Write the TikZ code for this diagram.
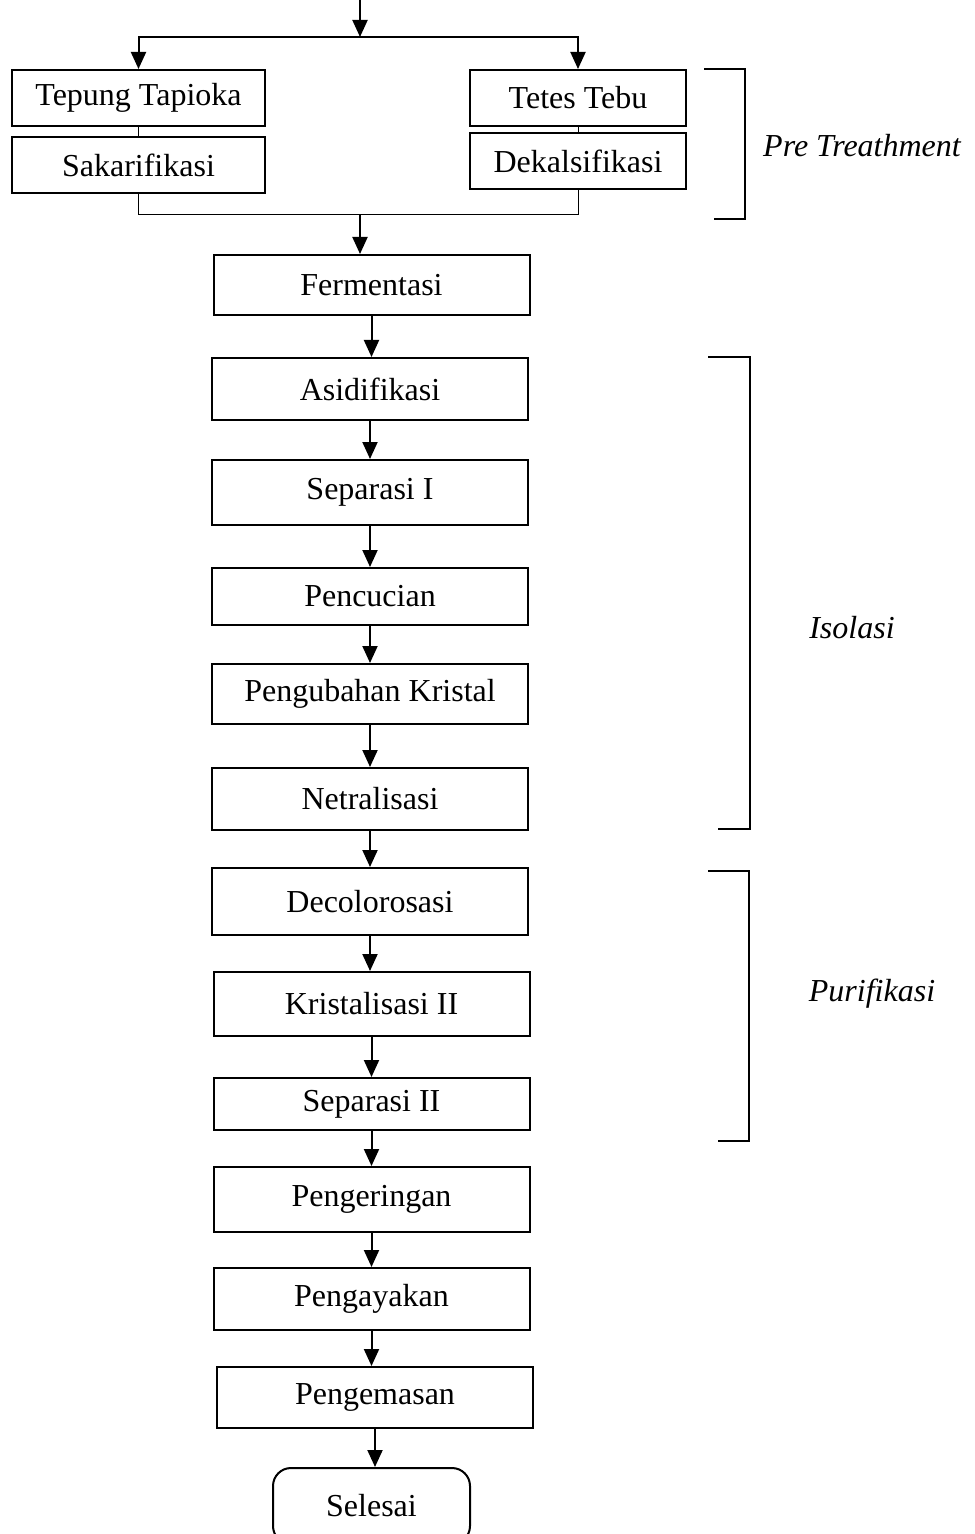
\documentclass[tikz,border=0pt]{standalone}
\usepackage{fontspec}
\setmainfont{Liberation Serif}
\usetikzlibrary{arrows.meta}
\begin{document}
\begin{tikzpicture}[x=0.5pt, y=-0.5pt, font=\fontsize{16pt}{19pt}\selectfont,
        arr/.style={line width=1pt, -{Triangle[length=8.5pt, width=7.5pt]}},
        thin line/.style={line width=0.5pt},
        brace line/.style={line width=0.7pt}]
        \useasboundingbox (0, 0) rectangle (974, 1534);
        \begin{scope}[every node/.style={draw, line width=1pt, inner sep=0, minimum width=158pt}]
            \node[minimum width=126.5pt, minimum height=28pt] (tepung) at (138.5, 98) {Tepung Tapioka};
            \node[minimum width=126.5pt, minimum height=28pt] (sakar) at (138.5, 165) {Sakarifikasi};
            \node[minimum width=108pt, minimum height=28pt] (tetes) at (578, 98) {Tetes Tebu};
            \node[minimum width=108pt, minimum height=28pt] (dekal) at (578, 161) {Dekalsifikasi};
            \node[minimum height=30pt] (ferm) at (371.5, 285) {Fermentasi};
            \node[minimum height=31pt] (asid) at (370, 389) {Asidifikasi};
            \node[minimum height=32.5pt] (sep1) at (370, 492.5) {Separasi I};
            \node[minimum height=28.5pt] (cuci) at (370, 596.5) {Pencucian};
            \node[minimum height=30pt] (ubah) at (370, 694) {Pengubahan Kristal};
            \node[minimum height=31pt] (netral) at (370, 799) {Netralisasi};
            \node[minimum height=33.5pt] (decol) at (370, 901.5) {Decolorosasi};
            \node[minimum height=32pt] (krist) at (371.5, 1004) {Kristalisasi II};
            \node[minimum height=26pt] (sep2) at (371.5, 1104) {Separasi II};
            \node[minimum height=32.5pt] (kering) at (371.5, 1199.5) {Pengeringan};
            \node[minimum height=31pt] (ayak) at (371.5, 1299) {Pengayakan};
            \node[minimum height=30.5pt] (kemas) at (375, 1397.5) {Pengemasan};
            \node[rounded corners=9pt, minimum width=98.5pt, minimum height=38pt] (selesai) at (371.5, 1506) {Selesai};
        \end{scope}
        \coordinate (top) at (360, 0);
        \coordinate (split) at (360, 37);
        \coordinate (join) at (360, 215);
        % input split
        \draw[arr] (top) -- (split);
        \draw[arr] (split) -| (tepung.north);
        \draw[arr] (split) -| (tetes.north);
        \draw[thin line] (tepung) -- (sakar);
        \draw[thin line] (tetes) -- (dekal);
        \draw[thin line] (sakar.south) |- (join);
        \draw[thin line] (dekal.south) |- (join);
        \draw[arr] (join) -- (join |- ferm.north);
        % main line
        \foreach \a/\b in {ferm/asid, asid/sep1, sep1/cuci, cuci/ubah, ubah/netral, netral/decol,
                decol/krist, krist/sep2, sep2/kering, kering/ayak, ayak/kemas, kemas/selesai}
            \draw[arr] (\a) -- (\a.south |- \b.north);
        % brackets
        \draw[brace line] (704, 69) -- (745, 69) -- (745, 219) -- (714, 219);
        \draw[brace line] (708, 357) -- (750, 357) -- (750, 829) -- (718, 829);
        \draw[brace line] (708, 871) -- (749, 871) -- (749, 1141) -- (718, 1141);
        \node[font=\fontsize{16pt}{19pt}\selectfont\itshape] (pre) at (862, 146) {Pre Treathment};
        \node[font=\fontsize{16pt}{19pt}\selectfont\itshape] (iso) at (852, 628) {Isolasi};
        \node[font=\fontsize{16pt}{19pt}\selectfont\itshape] (puri) at (872, 994) {Purifikasi};
    \end{tikzpicture}
\end{document}
